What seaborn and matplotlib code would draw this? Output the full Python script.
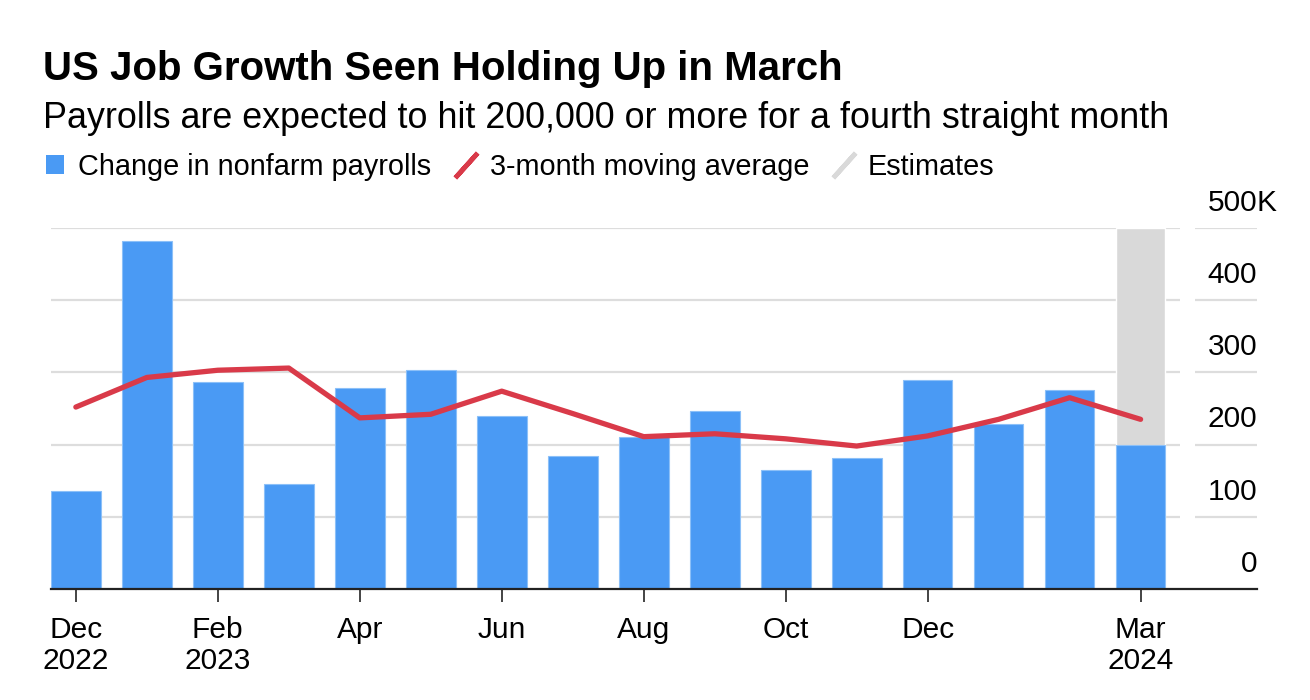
import numpy as np
import pandas as pd
import seaborn as sns
import matplotlib.pyplot as plt
from matplotlib.lines import Line2D
from matplotlib.patches import Patch

months = ['Dec 2022', 'Jan 2023', 'Feb 2023', 'Mar 2023', 'Apr 2023', 'May 2023', 'Jun 2023',
          'Jul 2023', 'Aug 2023', 'Sep 2023', 'Oct 2023', 'Nov 2023', 'Dec 2023',
          'Jan 2024', 'Feb 2024', 'Mar 2024']
payrolls = [136, 482, 287, 146, 278, 303, 240, 184, 210, 246, 165, 182, 290, 229, 275, 200]
moving_avg = [252, 293, 303, 306, 237, 242, 274, 243, 211, 215, 208, 198, 212, 235, 265, 235]
tick_pos = [0, 2, 4, 6, 8, 10, 12, 15]
tick_labels = ['Dec\n2022', 'Feb\n2023', 'Apr', 'Jun', 'Aug', 'Oct', 'Dec', 'Mar\n2024']
y_ticks = [0, 100, 200, 300, 400, 500]
y_labels = ['0', '100', '200', '300', '400', '500']
y_unit = 'K'
estimate_month = 'Mar 2024'

BLUE = '#4a9af4'
RED = '#d93a49'
GREY = '#d9d9d9'
GRID = '#dddddd'

df = pd.DataFrame({'month': months, 'payrolls': payrolls, 'avg': moving_avg})
df['pos'] = np.arange(len(df))

sns.set_theme(style='white')
plt.rcParams['font.family'] = ['Liberation Sans', 'DejaVu Sans']
plt.rcParams['text.color'] = 'black'
plt.rcParams['xtick.color'] = 'black'
plt.rcParams['xtick.labelcolor'] = 'black'

fig = plt.figure(figsize=(13.1, 7), dpi=100)
ax = fig.add_axes([51 / 1310, 111 / 700, (1257 - 51) / 1310, (589 - 228) / 700])

x_left, x_right = -0.35, 16.64
ax.set_xlim(x_left, x_right)
ax.set_ylim(0, 500)

# gridlines: main part and short segment under the right labels
for v in y_ticks[1:]:
    ax.hlines(v, x_left, 15.56, color=GRID, lw=1.6, zorder=0)
    ax.hlines(v, 15.77, x_right, color=GRID, lw=1.6, zorder=0)

# estimates shading
est = df.loc[df['month'] == estimate_month, 'pos'].iloc[0]
ax.bar(est, 500, width=0.7, color=GREY, zorder=1)

sns.barplot(data=df, x='pos', y='payrolls', color=BLUE, width=0.7, saturation=1,
            edgecolor='#8cc0f8', linewidth=0.8, ax=ax, zorder=2)
sns.lineplot(data=df, x='pos', y='avg', color=RED, lw=3.8, ax=ax, zorder=3,
             solid_capstyle='round', solid_joinstyle='round')
ax.set_xlim(x_left, x_right)

for s in ['top', 'right', 'left']:
    ax.spines[s].set_visible(False)
ax.spines['bottom'].set_color('#222222')
ax.spines['bottom'].set_linewidth(1.6)

ax.set_xticks(tick_pos)
ax.set_xticklabels(tick_labels, fontsize=21.5, linespacing=1.15)
ax.tick_params(axis='x', length=9, width=1.1, color='#111111', pad=10.5, bottom=True)
ax.set_yticks([])
ax.set_xlabel('')
ax.set_ylabel('')

for v, lab in zip(y_ticks, y_labels):
    ax.annotate(lab, (x_right, v), xytext=(0, 8), textcoords='offset points',
                ha='right', va='bottom', fontsize=21.5, annotation_clip=False)
ax.annotate(y_unit, (x_right, y_ticks[-1]), xytext=(0, 8), textcoords='offset points',
            ha='left', va='bottom', fontsize=21.5, annotation_clip=False)

fig.text(43 / 1310, 1 - 80 / 700, 'US Job Growth Seen Holding Up in March',
         fontsize=29, fontweight='bold', ha='left', va='baseline')
fig.text(43 / 1310, 1 - 128 / 700,
         'Payrolls are expected to hit 200,000 or more for a fourth straight month',
         fontsize=25.8, ha='left', va='baseline')

slash = dict(lw=0, marker=(2, 2, -42), markersize=24, markeredgewidth=3.4)
handles = [
    Patch(facecolor=BLUE, edgecolor='none'),
    Line2D([], [], color=RED, markeredgecolor=RED, **slash),
    Line2D([], [], color=GREY, markeredgecolor=GREY, **slash),
]
labels = ['Change in nonfarm payrolls', '3-month moving average', 'Estimates']
fig.legend(handles, labels, loc='center left', bbox_to_anchor=(46 / 1310, 1 - 167 / 700),
           ncol=3, frameon=False, fontsize=20.8, handlelength=0.62, handleheight=0.62,
           handletextpad=0.5, columnspacing=0.9, borderaxespad=0, borderpad=0)

fig.savefig('out.png', dpi=100)
